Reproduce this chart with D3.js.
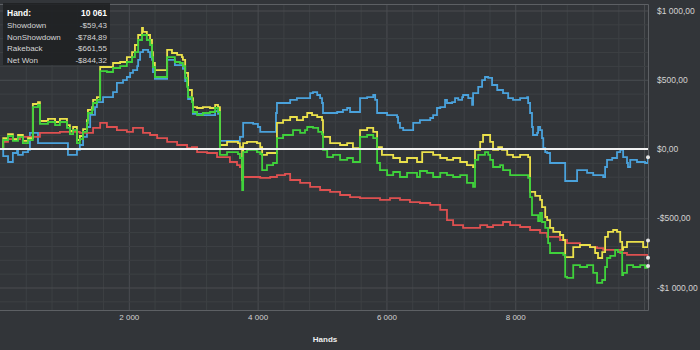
<!DOCTYPE html>
<html>
<head>
<meta charset="utf-8">
<script src="https://cdn.jsdelivr.net/npm/d3@7"></script>
<style>
  html, body { margin: 0; padding: 0; background: #323539; }
  svg { display: block; font-family: "Liberation Sans", Arial, sans-serif; }
</style>
</head>
<body>
<div id="chart"></div>
<script>
// legend / summary
const seriesNames = ["Showdown", "NonShowdown", "Rakeback", "Net Won"];
const finalValues = [-59.43, -784.89, -661.55, -844.32];
const totalHands = 10061;
const xTickValues = [2000, 4000, 6000, 8000];
const yTickValues = [-1000, -500, 0, 500, 1000];

// [hands, dollars]
const showdown = [[0,0],[50,-51],[125,-94],[200,-29],[265,-7],[280,-43],[355,-22],[435,-7],[465,116],[590,43],[1055,-43],[1195,-7],[1240,29],[1290,87],[1350,159],[1400,246],[1475,303],[1505,339],[1600,375],[1755,411],[1815,477],[1910,498],[1970,520],[2020,549],[2065,570],[2130,599],[2145,643],[2175,700],[2220,715],[2300,700],[2330,664],[2360,643],[2375,556],[2405,506],[2595,643],[2715,606],[2840,578],[2875,491],[2920,361],[2995,253],[3150,245],[3340,274],[3385,253],[3415,58],[3725,87],[3775,188],[3930,181],[4005,159],[4040,123],[4285,260],[4300,332],[4505,354],[4610,368],[4815,404],[4860,411],[4925,390],[4970,368],[5000,332],[5015,260],[5235,267],[5325,282],[5390,296],[5435,267],[5590,368],[5700,375],[5795,390],[5825,354],[5855,260],[6010,245],[6165,231],[6180,188],[6210,152],[6260,137],[6415,188],[6520,209],[6680,224],[6725,245],[6785,296],[6835,303],[6910,354],[6940,332],[7020,339],[7065,368],[7115,354],[7175,375],[7190,390],[7270,368],[7330,318],[7345,404],[7425,448],[7485,498],[7530,520],[7580,513],[7640,462],[7720,426],[7810,404],[7890,368],[7965,354],[8075,368],[8185,375],[8200,332],[8230,260],[8260,159],[8275,101],[8340,116],[8355,159],[8385,137],[8415,79],[8435,7],[8465,-22],[8495,-29],[8540,-101],[8775,-231],[8960,-152],[9115,-173],[9210,-188],[9365,-202],[9395,-130],[9425,-79],[9505,-65],[9580,-22],[9630,-7],[9675,-58],[9735,-101],[9750,-130],[9785,-79],[9890,-94],[10015,-101],[10061,-59.43]];

const nonShowdown = [[0,0],[50,51],[125,72],[310,87],[620,116],[930,123],[1240,116],[1445,152],[1555,188],[1660,159],[1815,137],[1970,123],[2065,152],[2220,116],[2330,101],[2440,79],[2595,51],[2750,29],[2905,7],[2980,14],[3060,-22],[3215,-29],[3370,-58],[3570,-94],[3680,-116],[3725,-130],[3760,-202],[4040,-209],[4195,-202],[4300,-188],[4425,-180],[4505,-224],[4660,-245],[4815,-274],[4970,-296],[5125,-310],[5280,-332],[5435,-347],[5590,-354],[5900,-368],[6055,-354],[6210,-368],[6365,-383],[6520,-390],[6680,-404],[6835,-440],[6940,-513],[7035,-549],[7190,-570],[7455,-549],[7565,-563],[7655,-549],[7810,-527],[7920,-549],[8075,-563],[8230,-585],[8385,-606],[8495,-635],[8695,-657],[8805,-679],[9005,-693],[9160,-708],[9270,-715],[9365,-729],[9630,-751],[9735,-765],[10061,-784.89]];

const rakeback = [[0,0],[50,79],[125,108],[200,72],[280,101],[355,58],[435,79],[510,325],[590,339],[620,202],[745,217],[855,195],[930,217],[1040,173],[1085,130],[1135,159],[1195,65],[1240,94],[1290,144],[1350,209],[1365,282],[1430,303],[1445,354],[1505,375],[1555,592],[1755,621],[1865,628],[1970,664],[2050,700],[2095,751],[2145,823],[2205,874],[2220,845],[2280,823],[2330,787],[2360,700],[2375,621],[2405,570],[2595,715],[2670,693],[2750,679],[2825,664],[2840,643],[2875,549],[2920,426],[2980,368],[2995,303],[3060,296],[3150,303],[3260,296],[3340,318],[3385,303],[3415,29],[3525,51],[3695,43],[3725,14],[3760,-224],[3775,43],[3835,51],[3990,43],[4040,14],[4070,-43],[4145,-29],[4300,188],[4395,209],[4505,231],[4610,209],[4705,231],[4770,260],[4845,245],[4925,231],[5000,209],[5015,87],[5125,43],[5280,29],[5390,43],[5480,7],[5590,137],[5700,152],[5795,123],[5855,14],[5930,-43],[6105,-65],[6210,-94],[6320,-65],[6475,-94],[6555,-22],[6725,-43],[6835,-65],[6940,-79],[7035,-65],[7145,-94],[7250,-116],[7345,-130],[7375,-7],[7455,51],[7500,101],[7610,51],[7655,-7],[7735,14],[7795,-7],[7875,-43],[7965,-58],[8075,-43],[8200,-58],[8230,-310],[8310,-339],[8385,-368],[8415,-419],[8465,-491],[8495,-513],[8540,-570],[8590,-599],[8695,-621],[8745,-657],[8775,-780],[8900,-708],[9005,-693],[9160,-708],[9240,-751],[9285,-787],[9350,-744],[9395,-635],[9440,-599],[9520,-585],[9580,-599],[9630,-671],[9660,-729],[9675,-708],[9735,-671],[9985,-708],[10061,-661.55]];

const netWon = [[0,0],[50,65],[125,94],[200,58],[280,87],[355,43],[435,65],[510,303],[590,318],[620,181],[745,195],[855,173],[930,195],[1040,152],[1085,108],[1135,137],[1195,43],[1240,72],[1290,123],[1350,188],[1365,260],[1430,282],[1445,332],[1505,354],[1555,563],[1660,556],[1755,585],[1865,599],[1970,628],[2050,664],[2095,700],[2145,787],[2205,823],[2280,787],[2330,751],[2360,664],[2375,592],[2405,520],[2595,664],[2715,628],[2795,621],[2840,599],[2875,513],[2905,448],[2920,375],[2980,339],[2995,267],[3060,245],[3150,260],[3260,267],[3340,296],[3385,267],[3415,-43],[3525,-22],[3695,-36],[3725,-65],[3760,-296],[3775,-22],[3835,-7],[3990,-22],[4040,-36],[4070,-152],[4145,-116],[4240,-101],[4300,79],[4395,101],[4550,137],[4660,116],[4735,137],[4770,159],[4860,152],[4940,123],[5000,108],[5015,-7],[5080,-58],[5170,-43],[5280,-79],[5390,-65],[5480,-94],[5590,87],[5700,101],[5795,79],[5855,-101],[5900,-152],[6010,-188],[6105,-166],[6210,-202],[6320,-173],[6475,-202],[6520,-159],[6630,-173],[6725,-202],[6835,-173],[6940,-188],[7035,-202],[7145,-188],[7250,-245],[7345,-274],[7375,-79],[7425,-43],[7530,-22],[7580,-43],[7610,-79],[7655,-130],[7765,-116],[7810,-152],[7920,-188],[8200,-209],[8230,-347],[8260,-477],[8355,-520],[8385,-462],[8415,-527],[8465,-570],[8510,-679],[8540,-751],[8745,-765],[8775,-924],[8805,-931],[8900,-838],[9005,-852],[9115,-838],[9210,-895],[9270,-967],[9350,-946],[9395,-852],[9425,-787],[9475,-772],[9550,-729],[9595,-744],[9660,-910],[9675,-895],[9735,-838],[9830,-852],[9940,-838],[10015,-859],[10061,-844.32]];

const series = [showdown, nonShowdown, rakeback, netWon];
const colors = ["#4aa2dc", "#de5050", "#ebe14b", "#3fd23b"];

const width = 700, height = 350;
const plot = { left: 0, top: 4, right: 648, bottom: 310 };

const locale = d3.formatLocale({ decimal: ",", thousands: "\u00a0", grouping: [3], currency: ["$", ""], minus: "-" });
const money = locale.format("$,.2f");
const count = locale.format(",d");

const svg = d3.select("#chart").append("svg")
  .attr("width", width)
  .attr("height", height);

svg.append("rect")
  .attr("width", width)
  .attr("height", height)
  .attr("fill", "#323539");

const x = d3.scaleLinear().domain([0, totalHands]).range([plot.left, plot.right]);
const y = d3.scaleLinear().domain([-1000, 1000]).range([287.5, 10.5]);

// grid
const minorGrid = "#3d4044", majorGrid = "#4a4d51";

svg.append("g")
  .attr("transform", `translate(0,${plot.bottom})`)
  .call(d3.axisBottom(x).tickValues(d3.range(400, 10001, 400)).tickSize(-(plot.bottom - plot.top)).tickFormat(""))
  .call(g => g.select(".domain").remove())
  .selectAll("line")
  .attr("stroke", d => d % 2000 === 0 ? majorGrid : minorGrid);

svg.append("g")
  .attr("transform", `translate(${plot.left},0)`)
  .call(d3.axisLeft(y).tickValues(d3.range(-1100, 1001, 100)).tickSize(-(plot.right - plot.left)).tickFormat(""))
  .call(g => g.select(".domain").remove())
  .selectAll("line")
  .attr("stroke", d => d % 500 === 0 ? majorGrid : minorGrid);

// plot border (top, right, bottom)
svg.append("path")
  .attr("d", `M${plot.left},${plot.top + 0.5}H${plot.right + 0.5}V${plot.bottom + 0.5}H${plot.left}`)
  .attr("fill", "none")
  .attr("stroke", "#5d6064");

// series
svg.append("clipPath").attr("id", "clip")
  .append("rect")
  .attr("x", plot.left).attr("y", plot.top)
  .attr("width", plot.right - plot.left).attr("height", plot.bottom - plot.top);

const line = d3.line()
  .x(d => x(d[0]))
  .y(d => y(d[1]))
  .curve(d3.curveStepAfter);

svg.append("g")
  .attr("clip-path", "url(#clip)")
  .selectAll("path")
  .data(series)
  .join("path")
  .attr("d", line)
  .attr("fill", "none")
  .attr("stroke", (d, i) => colors[i])
  .attr("stroke-width", 1.8);

// zero line
svg.append("line")
  .attr("x1", plot.left).attr("x2", plot.right)
  .attr("y1", y(0)).attr("y2", y(0))
  .attr("stroke", "#f2f2f2")
  .attr("stroke-width", 2.2);

// end markers
svg.append("g")
  .selectAll("circle")
  .data(series)
  .join("circle")
  .attr("cx", d => x(d[d.length - 1][0]))
  .attr("cy", d => y(d[d.length - 1][1]))
  .attr("r", 2)
  .attr("fill", "#e4e4e4");

// axes
const yAxis = svg.append("g")
  .attr("transform", `translate(${plot.right},0)`)
  .call(d3.axisRight(y).tickValues(yTickValues).tickSize(0).tickPadding(9).tickFormat(money));
yAxis.select(".domain").remove();
yAxis.selectAll("text")
  .attr("fill", "#d2d2d2")
  .style("font-family", "'Liberation Sans', Arial, sans-serif")
  .style("font-size", "8.5px");

const xAxis = svg.append("g")
  .attr("transform", `translate(0,${plot.bottom})`)
  .call(d3.axisBottom(x).tickValues(xTickValues).tickSize(0).tickPadding(4).tickFormat(count));
xAxis.select(".domain").remove();
xAxis.selectAll("text")
  .attr("fill", "#d2d2d2")
  .style("font-family", "'Liberation Sans', Arial, sans-serif")
  .style("font-size", "8px");

svg.append("text")
  .attr("x", 325)
  .attr("y", 342)
  .attr("text-anchor", "middle")
  .attr("fill", "#eeeeee")
  .style("font-size", "8px")
  .style("font-weight", "bold")
  .text("Hands");

// summary box
const box = svg.append("g");
box.append("rect")
  .attr("x", 3).attr("y", 3)
  .attr("width", 107).attr("height", 62)
  .attr("fill", "#1f2124")
  .attr("fill-opacity", 0.9);

box.append("text")
  .attr("x", 7).attr("y", 16)
  .attr("fill", "#ffffff")
  .style("font-size", "8.5px")
  .style("font-weight", "bold")
  .text("Hand:");
box.append("text")
  .attr("x", 107).attr("y", 16)
  .attr("text-anchor", "end")
  .attr("fill", "#ffffff")
  .style("font-size", "8.5px")
  .style("font-weight", "bold")
  .text(count(totalHands));

const rows = box.selectAll("g.row")
  .data(seriesNames)
  .join("g")
  .attr("class", "row")
  .attr("transform", (d, i) => `translate(0,${28 + i * 11.5})`);
rows.append("text")
  .attr("x", 7)
  .attr("fill", "#d6d6d6")
  .style("font-size", "8px")
  .text(d => d);
rows.append("text")
  .attr("x", 107)
  .attr("text-anchor", "end")
  .attr("fill", "#d6d6d6")
  .style("font-size", "8px")
  .text((d, i) => money(finalValues[i]));
</script>
</body>
</html>
